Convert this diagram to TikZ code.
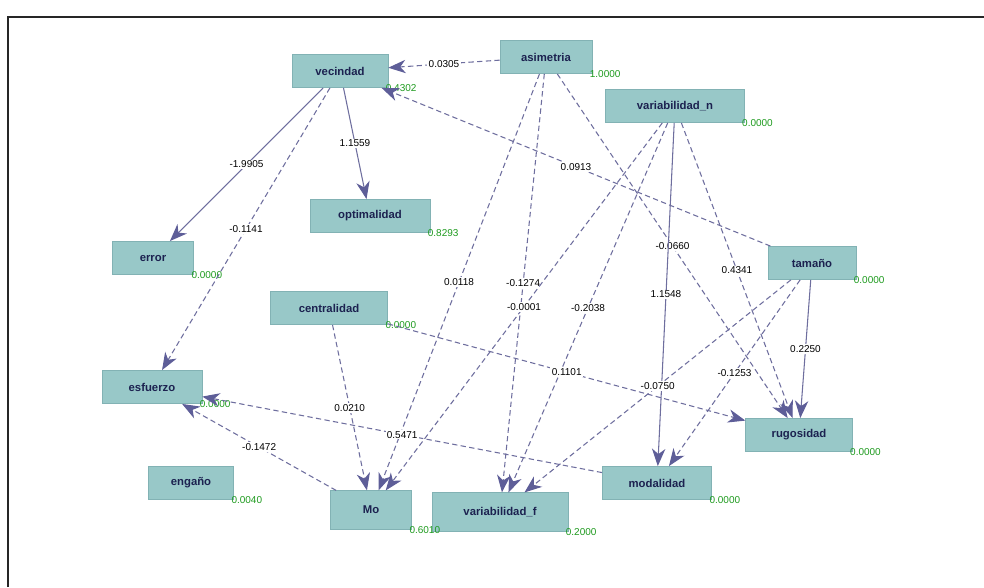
\documentclass[tikz,border=0pt]{standalone}
\usepackage{fontspec}
\setmainfont{Liberation Sans}
\usetikzlibrary{arrows.meta}
\definecolor{boxfill}{HTML}{98C8C8}
\definecolor{boxline}{HTML}{82B2B4}
\definecolor{edgecol}{HTML}{6E6E9E}
\definecolor{tipcol}{HTML}{5E5E98}
\definecolor{valgreen}{HTML}{1E9A1E}
\definecolor{boxtext}{HTML}{1C2250}

\begin{document}
\begin{tikzpicture}[x=0.75pt, y=-0.75pt, >={Stealth[length=13pt, width=10pt, inset=4pt, color=tipcol, fill=tipcol]},
  var/.style={draw=boxline, fill=boxfill, minimum height=25pt, inner sep=2pt, font=\fontsize{8.5}{10}\selectfont\bfseries, text=boxtext},
  val/.style={font=\fontsize{7.5}{8}\selectfont, text=valgreen, anchor=west, inner sep=1pt, xshift=-3pt},
  rel/.style={->, draw=edgecol, line width=0.8pt, dash pattern=on 4pt off 2.5pt},
  firm/.style={->, draw=edgecol, line width=0.8pt},
  coef/.style={font=\fontsize{7.5}{8}\selectfont, fill=white, inner sep=1pt, midway}]
  \useasboundingbox (0,0) rectangle (984,587);
  \draw[black!85, line width=0.8pt] (8,587) -- (8,17) -- (984,17);

  % variables
  \node[var, minimum width=72pt, label={[val]south east:0.4302}] (vec) at (340,71) {vecindad};
  \node[var, minimum width=69pt, label={[val]south east:1.0000}] (asim) at (546,57) {asimetria};
  \node[var, minimum width=104pt, label={[val]south east:0.0000}] (varn) at (675,106) {variabilidad\_n};
  \node[var, minimum width=90pt, label={[val]south east:0.8293}] (opt) at (370,216) {optimalidad};
  \node[var, minimum width=61pt, label={[val]south east:0.0000}] (err) at (153,258) {error};
  \node[var, minimum width=66pt, label={[val]south east:0.0000}] (tam) at (812,263) {tamaño};
  \node[var, minimum width=88pt, label={[val]south east:0.0000}] (cent) at (329,308) {centralidad};
  \node[var, minimum width=75pt, label={[val]south east:0.0000}] (esf) at (152,387) {esfuerzo};
  \node[var, minimum width=80pt, label={[val]south east:0.0000}] (rug) at (799,435) {rugosidad};
  \node[var, minimum width=64pt, label={[val]south east:0.0040}] (eng) at (191,483) {engaño};
  \node[var, minimum width=102pt, minimum height=29pt, label={[val]south east:0.2000}] (varf) at (500,512) {variabilidad\_f};
  \node[var, minimum width=61pt, minimum height=29pt, label={[val]south east:0.6010}] (mo) at (371,510) {Mo};
  \node[var, minimum width=82pt, label={[val]south east:0.0000}] (mod) at (657,483) {modalidad};

  % relaciones
  \draw[rel] (asim) -- node[coef]{0.0305} (vec);
  \draw[rel] (tam) -- node[coef]{0.0913} (vec);
  \draw[firm] (vec) -- node[coef]{-1.9905} (err);
  \draw[rel] (vec) -- node[coef]{-0.1141} (esf);
  \draw[firm] (vec) -- node[coef]{1.1559} (opt);
  \draw[rel] (asim) -- node[coef]{0.0118} (mo);
  \draw[rel] (asim) -- node[coef]{-0.1274} (varf);
  \draw[rel] (asim) -- node[coef]{-0.0660} (rug);
  \draw[rel] (varn) -- node[coef]{-0.0001} (mo);
  \draw[rel] (varn) -- node[coef]{-0.2038} (varf);
  \draw[firm] (varn) -- node[coef]{1.1548} (mod);
  \draw[rel] (varn) -- node[coef]{0.4341} (rug);
  \draw[firm] (tam) -- node[coef]{0.2250} (rug);
  \draw[rel] (tam) -- node[coef]{-0.1253} (mod);
  \draw[rel] (tam) -- node[coef]{-0.0750} (varf);
  \draw[rel] (cent) -- node[coef]{0.1101} (rug);
  \draw[rel] (cent) -- node[coef]{0.0210} (mo);
  \draw[rel] (mod) -- node[coef]{0.5471} (esf);
  \draw[rel] (mo) -- node[coef]{-0.1472} (esf);
\end{tikzpicture}
\end{document}
